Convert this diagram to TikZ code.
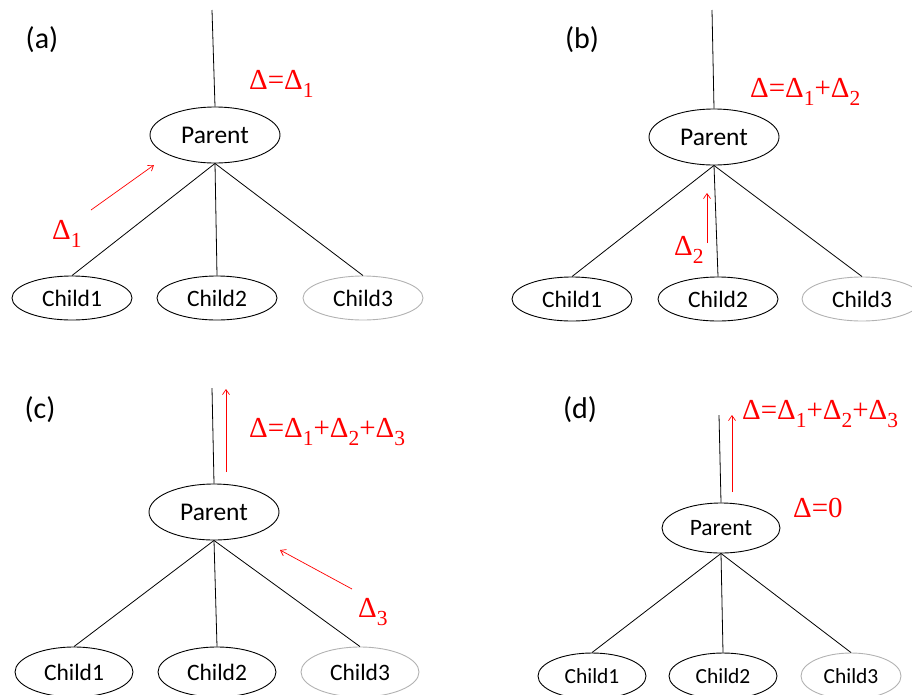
\documentclass[tikz,border=0pt]{standalone}
\usepackage{fontspec}
\setmainfont{Carlito}
\newfontfamily\lserif{Liberation Serif}
\usetikzlibrary{shapes.geometric,arrows.meta}
\newcommand\dsub[1]{\raisebox{-0.28em}{\scalebox{0.74}{#1}}}
\begin{document}
\begin{tikzpicture}[x=1pt,y=-1pt,
  par/.style={ellipse, draw, line width=0.9pt, minimum width=130pt, minimum height=56pt, inner sep=0pt, font=\fontsize{25.5}{30}\selectfont},
  kid/.style={ellipse, draw, line width=0.9pt, minimum width=120pt, minimum height=44pt, inner sep=0pt, font=\fontsize{23.5}{28}\selectfont},
  kidgray/.style={kid, draw=gray!60},
  edge/.style={line width=0.8pt},
  redarrow/.style={red, line width=0.7pt, -{Straight Barb[length=5pt,width=7pt]}},
  delta/.style={text=red, font=\lserif\fontsize{29}{33}\selectfont, anchor=west, inner sep=0pt},
  tag/.style={font=\fontsize{30}{34}\selectfont, inner sep=0pt}]
\useasboundingbox (0,0) rectangle (912,694);
% ---------- (a)
\node[tag] (la) at (42,40) {(a)};
\node[par] (pa) at (215,135) {Parent};
\node[kid] (a1) at (72,298) {Child1};
\node[kid] (a2) at (217,298) {Child2};
\node[kidgray] (a3) at (363,298) {Child3};
\coordinate (ta) at (212,10);
\draw[edge] (ta) -- (pa.north);
\draw[edge] (pa.south) -- (a1.north);
\draw[edge] (pa.south) -- (a2.north);
\draw[edge] (pa.south) -- (a3.north);
\coordinate (aa1) at (91,210);
\coordinate (aa2) at (154,165);
\draw[redarrow] (aa1) -- (aa2);
\node[delta] (da1) at (52,234) {Δ\dsub{1}};
\node[delta] (da) at (249,84) {Δ=Δ\dsub{1}};
% ---------- (b)
\node[tag] (lb) at (582,40) {(b)};
\node[par] (pb) at (714,137) {Parent};
\node[kid] (b1) at (572,299) {Child1};
\node[kid] (b2) at (718,299) {Child2};
\node[kidgray] (b3) at (862,299) {Child3};
\coordinate (tb) at (712,10);
\draw[edge] (tb) -- (pb.north);
\draw[edge] (pb.south) -- (b1.north);
\draw[edge] (pb.south) -- (b2.north);
\draw[edge] (pb.south) -- (b3.north);
\coordinate (ab1) at (707,243);
\coordinate (ab2) at (707,193);
\draw[redarrow] (ab1) -- (ab2);
\node[delta] (db2) at (674,250) {Δ\dsub{2}};
\node[delta] (db) at (750,92) {Δ=Δ\dsub{1}+Δ\dsub{2}};
% ---------- (c)
\node[tag] (lc) at (40,410) {(c)};
\node[par] (pc) at (214,512) {Parent};
\node[kid, minimum width=118pt, minimum height=50pt] (c1) at (74,672) {Child1};
\node[kid, minimum width=118pt, minimum height=50pt] (c2) at (217,672) {Child2};
\node[kidgray, minimum width=118pt, minimum height=50pt] (c3) at (360,672) {Child3};
\coordinate (tc) at (212,388);
\draw[edge] (tc) -- (pc.north);
\draw[edge] (pc.south) -- (c1.north);
\draw[edge] (pc.south) -- (c2.north);
\draw[edge] (pc.south) -- (c3.north);
\coordinate (ac1) at (226,472);
\coordinate (ac2) at (226,389);
\draw[redarrow] (ac1) -- (ac2);
\coordinate (ac3) at (352,589);
\coordinate (ac4) at (280,550);
\draw[redarrow] (ac3) -- (ac4);
\node[delta] (dc3) at (358,612) {Δ\dsub{3}};
\node[delta] (dc) at (249,432) {Δ=Δ\dsub{1}+Δ\dsub{2}+Δ\dsub{3}};
% ---------- (d)
\node[tag] (ld) at (580,410) {(d)};
\node[par, minimum width=118pt, minimum height=50pt, font=\fontsize{23.5}{28}\selectfont] (pd) at (721,528) {Parent};
\node[kid, minimum width=108pt, minimum height=46pt, font=\fontsize{21.5}{26}\selectfont] (d1) at (592,676) {Child1};
\node[kid, minimum width=108pt, minimum height=46pt, font=\fontsize{21.5}{26}\selectfont] (d2) at (723,676) {Child2};
\node[kidgray, minimum width=100pt, minimum height=46pt, font=\fontsize{21.5}{26}\selectfont] (d3) at (851,676) {Child3};
\coordinate (td) at (719,415);
\draw[edge] (td) -- (pd.north);
\draw[edge] (pd.south) -- (d1.north);
\draw[edge] (pd.south) -- (d2.north);
\draw[edge] (pd.south) -- (d3.north);
\coordinate (ad1) at (732,492);
\coordinate (ad2) at (732,415);
\draw[redarrow] (ad1) -- (ad2);
\node[delta] (dd) at (742,414) {Δ=Δ\dsub{1}+Δ\dsub{2}+Δ\dsub{3}};
\node[delta] (dd0) at (793,508) {Δ=0};
\end{tikzpicture}
\end{document}
